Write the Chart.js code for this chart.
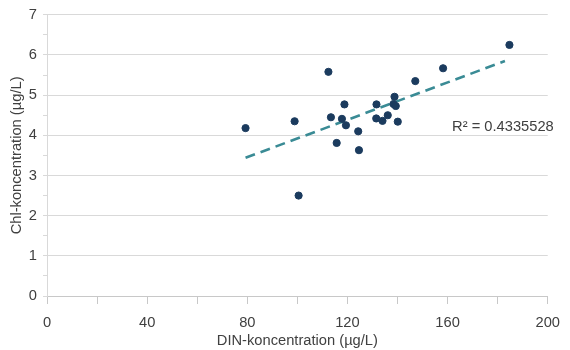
<!DOCTYPE html>
<html>
<head>
<meta charset="utf-8">
<script src="https://cdn.jsdelivr.net/npm/chart.js@4/dist/chart.umd.min.js"></script>
<style>
html,body{margin:0;padding:0;background:#fff;}
#wrap{width:570px;height:350px;}
</style>
</head>
<body>
<div id="wrap"><canvas id="grafico" width="570" height="350"></canvas></div>
<script>
// Datos
const dinX=[79.3,98.9,100.5,112.4,113.4,115.7,117.8,118.8,119.4,124.3,124.6,131.6,131.5,134.0,136.1,138.8,138.4,139.3,140.1,147.1,158.2,184.7];
const chlY=[4.18,4.35,2.50,5.58,4.45,3.81,4.41,4.77,4.25,4.10,3.63,4.77,4.42,4.36,4.50,4.96,4.78,4.73,4.34,5.35,5.67,6.25];
// Linea de tendencia (extremos leidos)
const tendX=[79.3,182.9];
const tendY=[3.44,5.85];
const r2Texto="R\u00B2 = 0.4335528";
const xTicks=[0,40,80,120,160,200];
const yTicks=[0,1,2,3,4,5,6,7];

const fuente="'Liberation Sans', Arial, sans-serif";
const tam=14.7;
const grisTexto="#404040";

// Etiqueta R²
const etiquetaR2={
  id:"etiquetaR2",
  afterDatasetsDraw(chart){
    const ctx=chart.ctx;
    const area=chart.chartArea;
    const y=chart.scales.y.getPixelForValue(4.21);
    ctx.save();
    ctx.font=tam+"px "+fuente;
    ctx.fillStyle=grisTexto;
    ctx.textAlign="right";
    ctx.textBaseline="middle";
    ctx.fillText(r2Texto,area.right+6,y);
    ctx.restore();
  }
};

const ctx=document.getElementById("grafico").getContext("2d");
new Chart(ctx,{
  type:"scatter",
  data:{datasets:[
    {label:"Chl",data:dinX.map((x,i)=>({x,y:chlY[i]})),backgroundColor:"#1b3b5e",borderColor:"#1b3b5e",pointRadius:3.6,pointHoverRadius:3.6,order:1},
    {label:"Tendencia",type:"line",data:tendX.map((x,i)=>({x,y:tendY[i]})),borderColor:"#3a8b95",borderWidth:2.6,borderDash:[10,6],pointRadius:0,fill:false,order:2}
  ]},
  options:{
    responsive:false,
    animation:false,
    layout:{padding:{top:13,right:21,bottom:0,left:0}},
    plugins:{legend:{display:false},tooltip:{enabled:false}},
    scales:{
      x:{
        type:"linear",min:0,max:200,
        afterFit(s){s.height=54;},
        ticks:{stepSize:20,autoSkip:false,maxRotation:0,padding:10,color:grisTexto,font:{family:fuente,size:tam},
          callback:v=>xTicks.includes(v)?String(v):""},
        grid:{drawOnChartArea:false,tickLength:8,color:"#c8c8c8",tickColor:"#c8c8c8"},
        border:{color:"#c8c8c8"},
        title:{display:true,text:"DIN-koncentration (\u00B5g/L)",color:grisTexto,font:{family:fuente,size:tam},padding:{top:1,bottom:0}}
      },
      y:{
        type:"linear",min:0,max:7,
        afterFit(s){s.width=47;},
        ticks:{stepSize:0.5,autoSkip:false,padding:6,color:grisTexto,font:{family:fuente,size:tam},
          callback:v=>yTicks.includes(v)?String(v):""},
        grid:{tickLength:4,color:c=>Number.isInteger(c.tick&&c.tick.value)&&c.tick.value>0?"#d9d9d9":"rgba(0,0,0,0)",tickColor:"#d9d9d9"},
        border:{color:"#d9d9d9"},
        title:{display:true,text:"Chl-koncentration (\u00B5g/L)",color:grisTexto,font:{family:fuente,size:tam},padding:{top:8,bottom:0}}
      }
    }
  },
  plugins:[etiquetaR2]
});
</script>
</body>
</html>
